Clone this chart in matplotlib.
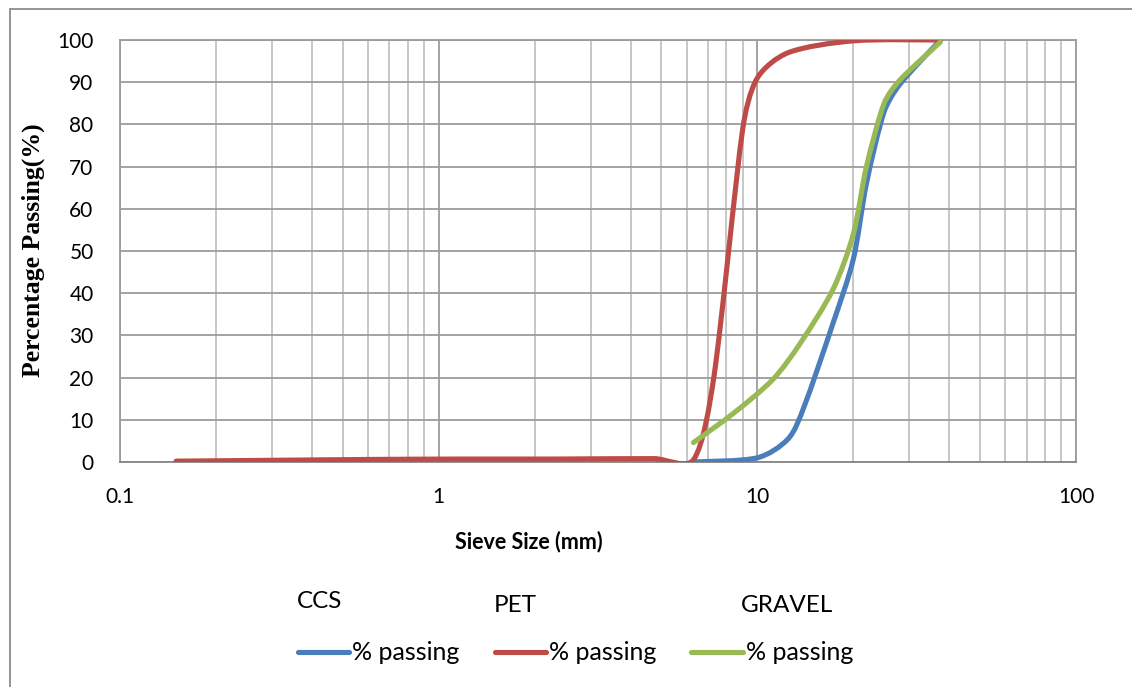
import numpy as np
import matplotlib.pyplot as plt
from matplotlib.path import Path
from matplotlib.patches import PathPatch, Rectangle
from matplotlib.lines import Line2D
from matplotlib.ticker import FixedLocator, NullFormatter, FixedFormatter

# sieve sizes (mm) and % passing for each material
ccs_size = [6.3, 10, 12.5, 14, 17.3, 20, 22, 25, 28, 37.5]
ccs_pass = [0, 1.0, 5.5, 13, 33, 48, 66, 83, 89.5, 100]

pet_size = [0.15, 0.3, 0.6, 1.18, 2.36, 4.75, 6.3, 7.3, 9.0, 10, 12.5, 20, 37.5]
pet_pass = [0.2, 0.4, 0.6, 0.7, 0.7, 0.8, 0.5, 20, 79, 91, 97, 99.8, 100]

gravel_size = [6.3, 8.4, 11.2, 13.6, 17.3, 20, 22, 25, 28, 37.5]
gravel_pass = [4.6, 11.5, 19.6, 28, 41, 54, 70, 85, 90.5, 99.5]

series_names = ['CCS', 'PET', 'GRAVEL']
colors = ['#4A7EBB', '#BE4B48', '#98B954']

x_ticks = [0.1, 1, 10, 100]
x_ticklabels = ['0.1', '1', '10', '100']
y_ticks = list(range(0, 101, 10))

FONT = 'Lato'


def smooth_path(sizes, values, px_dec=318.7, px_unit=4.22, k=0.3):
    # Bezier smoothing (Catmull-Rom style) done in log-x space,
    # with control arms limited so that short segments don't overshoot
    p = np.column_stack([np.log10(sizes) * px_dec,
                         np.asarray(values, float) * px_unit])
    n = len(p)
    tang = np.zeros_like(p)
    for i in range(n):
        a = p[max(i - 1, 0)]
        b = p[min(i + 1, n - 1)]
        tang[i] = (b - a) / 6.0
    verts = [p[0]]
    codes = [Path.MOVETO]
    for i in range(n - 1):
        seg = np.hypot(*(p[i + 1] - p[i]))
        t0, t1 = tang[i], tang[i + 1]
        l0, l1 = np.hypot(*t0), np.hypot(*t1)
        if l0 > k * seg:
            t0 = t0 * (k * seg / l0)
        if l1 > k * seg:
            t1 = t1 * (k * seg / l1)
        verts += [p[i] + t0, p[i + 1] - t1, p[i + 1]]
        codes += [Path.CURVE4] * 3
    verts = np.array(verts)
    verts[:, 0] = 10 ** (verts[:, 0] / px_dec)
    verts[:, 1] = verts[:, 1] / px_unit
    return Path(verts, codes)


fig = plt.figure(figsize=(11.32, 6.87), dpi=100)
ax = fig.add_axes([120 / 1132, 1 - 462 / 687, 956 / 1132, 422 / 687])

ax.set_xscale('log')
ax.set_xlim(0.1, 100)
ax.set_ylim(0, 100)

ax.xaxis.set_major_locator(FixedLocator(x_ticks))
ax.xaxis.set_major_formatter(FixedFormatter(x_ticklabels))
minor = [m * d for d in (0.1, 1, 10) for m in range(2, 10)]
ax.xaxis.set_minor_locator(FixedLocator(minor))
ax.xaxis.set_minor_formatter(NullFormatter())
ax.set_yticks(y_ticks)

ax.grid(True, which='major', color='#9C9C9C', lw=1.3)
ax.grid(True, which='minor', axis='x', color='#BDBDBD', lw=1.2)
ax.set_axisbelow(True)
for s in ax.spines.values():
    s.set_color('#9C9C9C')
    s.set_linewidth(1.3)
ax.spines['bottom'].set_color('#868686')

ax.tick_params(which='both', length=0)
ax.tick_params(axis='x', pad=18, labelsize=15)
ax.tick_params(axis='y', pad=19, labelsize=15)
for lab in ax.get_xticklabels() + ax.get_yticklabels():
    lab.set_fontfamily(FONT)

data = [(ccs_size, ccs_pass), (pet_size, pet_pass), (gravel_size, gravel_pass)]
handles = []
for (sz, pv), c in zip(data, colors):
    patch = PathPatch(smooth_path(sz, pv), fill=False, edgecolor=c,
                      lw=3.7, capstyle='round', joinstyle='round', zorder=3)
    ax.add_patch(patch)
    handles.append(Line2D([], [], color=c, lw=3.7, solid_capstyle='round'))

fig.text(33 / 1132, 1 - 250 / 687, 'Percentage Passing(%)', rotation=90,
         ha='center', va='center', fontsize=18.5, fontweight='bold',
         family='Liberation Serif')
fig.text(529 / 1132, 1 - 542 / 687, 'Sieve Size (mm)', ha='center',
         va='center', fontsize=15.5, fontweight='bold', family=FONT)

# series names above the legend entries
for name, xp, yp in zip(series_names, [297, 494, 741], [602, 606, 606]):
    fig.text(xp / 1132, 1 - yp / 687, name, ha='left', va='center',
             fontsize=17.5, family=FONT)

fig.legend(handles, ['% passing'] * 3, loc='center left',
           bbox_to_anchor=(298 / 1132, 1 - 653 / 687), ncol=3, frameon=False,
           prop={'family': FONT, 'size': 18}, handlelength=2.05,
           handletextpad=0.12, columnspacing=1.4, borderpad=0,
           borderaxespad=0)

# outer chart border
fig.add_artist(Rectangle((10 / 1132, -0.05), 1.1, 1 - 9 / 687 + 0.05,
                         transform=fig.transFigure, fill=False,
                         edgecolor='#8C8C8C', lw=1.3))

fig.savefig('out.png', dpi=100)
